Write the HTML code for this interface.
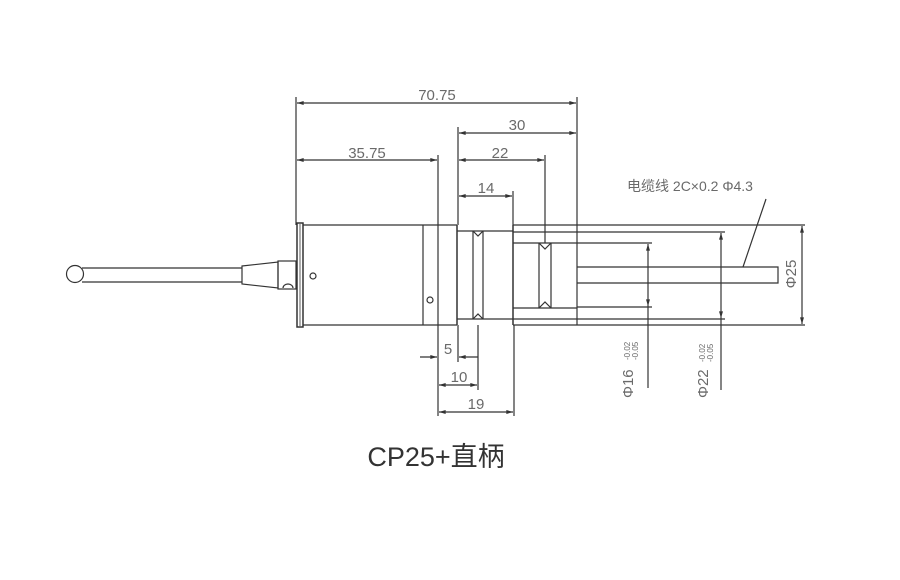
<!DOCTYPE html>
<html><head><meta charset="utf-8"><style>html,body{margin:0;padding:0;background:#fff}svg{display:block}</style></head>
<body>
<svg width="900" height="580" viewBox="0 0 900 580" xmlns="http://www.w3.org/2000/svg">
<defs>
<marker id="a" viewBox="0 0 10 6" refX="10" refY="3" markerWidth="8" markerHeight="4" orient="auto-start-reverse" markerUnits="userSpaceOnUse"><path d="M0,0 L10,3 L0,6 z" fill="#333"/></marker>
</defs>
<g fill="none" stroke="#333" stroke-width="1.2">
<circle cx="75" cy="274" r="8.5" fill="#fff"/>
<path d="M82,268 L242,268 M82,282 L242,282"/>
<path d="M242,266 L278,262 L278,288 L242,284 z"/>
<rect x="278" y="261" width="18" height="28"/>
<path d="M283,288 a5,4 0 0 1 10,0"/>
<rect x="297" y="223" width="6" height="104" stroke-width="1.5"/>
<path d="M300,224 L300,326" stroke-width="0.8"/>
<circle cx="313" cy="276" r="3"/>
<path d="M303,225 L457,225 M303,325 L457,325"/>
<path d="M423,225 L423,325 M438,225 L438,325" />
<path d="M457,225 L457,325" stroke-width="1.5"/>
<circle cx="430" cy="300" r="3"/>
<path d="M457,231 L513,231 M457,319 L513,319"/>
<path d="M473,231 L473,319 M483,231 L483,319"/>
<path d="M473,231 L478,236 L483,231 M473,319 L478,314 L483,319"/>
<path d="M513,225 L513,325" stroke-width="1.5"/>
<path d="M513,243 L577,243 M513,308 L577,308"/>
<path d="M539,243 L539,308 M551,243 L551,308"/>
<path d="M539,243 L545,249 L551,243 M539,308 L545,302 L551,308"/>
<path d="M577,225 L577,325"/>
<path d="M513,225 L805,225 M513,325 L805,325"/>
<path d="M513,232 L725,232 M513,319 L725,319"/>
<path d="M577,243 L652,243 M577,307 L652,307"/>
<path d="M577,267 L778,267 L778,283 L577,283"/>
<path d="M743,267 L766,199"/>
<path d="M296,97 L296,225 M577,97 L577,225"/>
<path d="M297,103 L576,103" marker-start="url(#a)" marker-end="url(#a)"/>
<path d="M458,127 L458,225"/>
<path d="M459,133 L576,133" marker-start="url(#a)" marker-end="url(#a)"/>
<path d="M438,155 L438,225 M545,155 L545,243"/>
<path d="M297,160 L437,160" marker-start="url(#a)" marker-end="url(#a)"/>
<path d="M459,160 L544,160" marker-start="url(#a)" marker-end="url(#a)"/>
<path d="M513,191 L513,225"/>
<path d="M459,196 L512,196" marker-start="url(#a)" marker-end="url(#a)"/>
<path d="M438,325 L438,416 M458,325 L458,362 M478,325 L478,390 M514,325 L514,416"/>
<path d="M420,357 L437,357" marker-end="url(#a)"/>
<path d="M478,357 L459,357" marker-end="url(#a)"/>
<path d="M439,385 L477,385" marker-start="url(#a)" marker-end="url(#a)"/>
<path d="M439,412 L513,412" marker-start="url(#a)" marker-end="url(#a)"/>
<path d="M802,226 L802,324" marker-start="url(#a)" marker-end="url(#a)"/>
<path d="M648,244 L648,306" marker-start="url(#a)" marker-end="url(#a)"/>
<path d="M648,306 L648,388"/>
<path d="M721,233 L721,318" marker-start="url(#a)" marker-end="url(#a)"/>
<path d="M721,318 L721,390"/>
</g>
<g font-family="Liberation Sans, sans-serif" fill="#6a6a6a" font-size="15" text-anchor="middle">
<text x="437" y="100">70.75</text>
<text x="517" y="130">30</text>
<text x="500" y="158">22</text>
<text x="486" y="193">14</text>
<text x="367" y="158">35.75</text>
<text x="448" y="354">5</text>
<text x="459" y="382">10</text>
<text x="476" y="409">19</text>
<text x="690" y="191" font-family="Liberation Sans, Noto Sans CJK SC, sans-serif" font-size="14">电缆线 2C×0.2  Φ4.3</text>
<text transform="translate(796,274) rotate(-90)" font-size="15">Φ25</text>
<text transform="translate(633,398) rotate(-90)" text-anchor="start" font-size="15">Φ16</text>
<text transform="translate(630,360) rotate(-90)" text-anchor="start" font-size="8">-0.02</text>
<text transform="translate(638,360) rotate(-90)" text-anchor="start" font-size="8">-0.05</text>
<text transform="translate(708,398) rotate(-90)" text-anchor="start" font-size="15">Φ22</text>
<text transform="translate(705,362) rotate(-90)" text-anchor="start" font-size="8">-0.02</text>
<text transform="translate(713,362) rotate(-90)" text-anchor="start" font-size="8">-0.05</text>
</g>
<text x="436" y="466" text-anchor="middle" font-family="Liberation Sans, Noto Sans CJK SC, sans-serif" font-size="27" fill="#333">CP25+直柄</text>
</svg>
</body></html>
